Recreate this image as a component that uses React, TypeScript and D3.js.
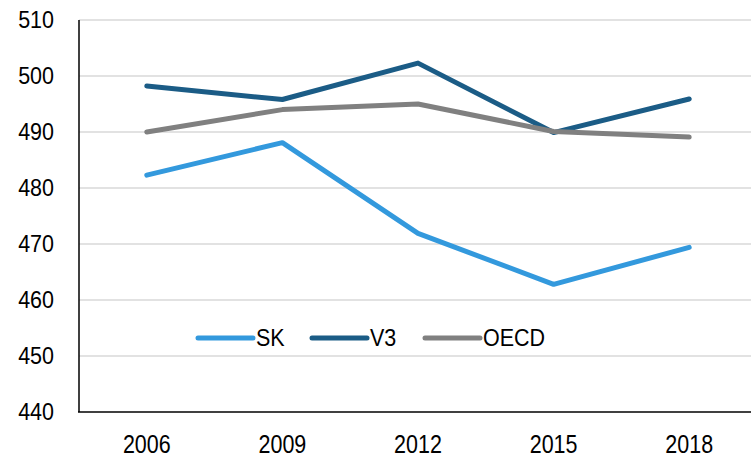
import React from 'react'
import * as d3 from 'd3'

const years = ['2006', '2009', '2012', '2015', '2018']
const sk = [482.3, 488.1, 471.9, 462.8, 469.4]
const v3 = [498.2, 495.8, 502.3, 489.9, 495.9]
const oecd = [490.0, 494.0, 495.0, 490.1, 489.1]
const yTicks = [440, 450, 460, 470, 480, 490, 500, 510]

const seriesNames = ['SK', 'V3', 'OECD']
const seriesColors = ['#3399dd', '#1b5c86', '#808080']

const W = 751
const H = 456

export default function App() {
  const x = d3.scalePoint<string>().domain(years).range([79, 757]).padding(0.5)
  const y = d3.scaleLinear().domain([440, 510]).range([412, 20])
  const line = d3.line<number>()
    .x((d, i) => x(years[i]) as number)
    .y(d => y(d))
  const all = [sk, v3, oecd]
  const legendX = [198, 312, 425]
  const font = '"Liberation Sans", Arial, sans-serif'

  return (
    <svg width={W} height={H} style={{ position: 'absolute', left: 0, top: 0, background: '#fff' }}>
      {yTicks.map(t => (
        <g key={t}>
          {t > 440 && <line x1={79} x2={W} y1={y(t)} y2={y(t)} stroke="#d9d9d9" strokeWidth={1.5} />}
          <text transform={`translate(54,${y(t) + 7.5}) scale(1,1.12)`} textAnchor="end"
            fontFamily={font} fontSize={21.5} fill="#000">{t}</text>
        </g>
      ))}
      <line x1={79} x2={79} y1={20} y2={412} stroke="#000" strokeWidth={1.5} />
      <line x1={78} x2={W} y1={412} y2={412} stroke="#000" strokeWidth={1.5} />
      {years.map(yr => (
        <text key={yr} transform={`translate(${x(yr)},452.5) scale(1,1.18)`} textAnchor="middle"
          fontFamily={font} fontSize={21.5} fill="#000">{yr}</text>
      ))}
      {all.map((s, i) => (
        <path key={i} d={line(s) ?? ''} fill="none" stroke={seriesColors[i]} strokeWidth={5}
          strokeLinecap="round" strokeLinejoin="round" />
      ))}
      {seriesNames.map((n, i) => (
        <g key={n}>
          <line x1={legendX[i]} x2={legendX[i] + 55} y1={338} y2={338} stroke={seriesColors[i]} strokeWidth={5} strokeLinecap="round" />
          <text transform={`translate(${legendX[i] + 58},346) scale(1,1.12)`}
            fontFamily={font} fontSize={21.5} fill="#000">{n}</text>
        </g>
      ))}
    </svg>
  )
}
